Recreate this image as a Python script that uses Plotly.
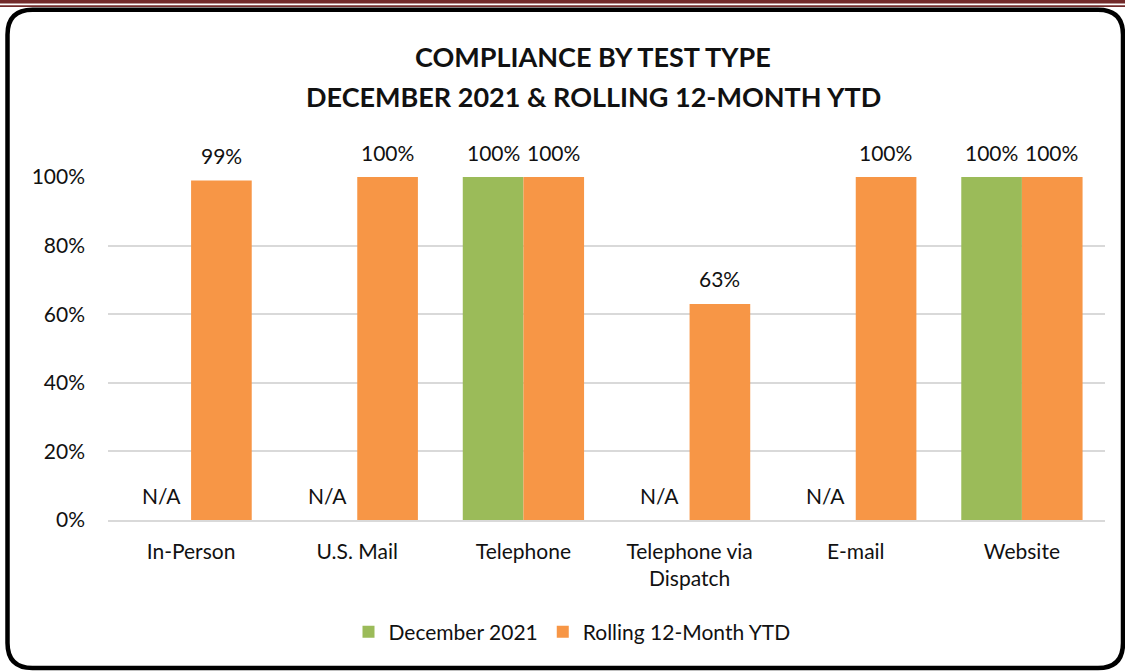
import plotly.graph_objects as go

categories = ["In-Person", "U.S. Mail", "Telephone", "Telephone via<br>Dispatch", "E-mail", "Website"]
december_2021 = [None, None, 1.00, None, None, 1.00]
rolling_12m = [0.99, 1.00, 1.00, 0.63, 1.00, 1.00]
series_names = ["December 2021", "Rolling 12-Month YTD"]
y_ticks = [0, 0.2, 0.4, 0.6, 0.8, 1.0]
y_tick_labels = ["0%", "20%", "40%", "60%", "80%", "100%"]
title_lines = ["COMPLIANCE BY TEST TYPE", "DECEMBER 2021 & ROLLING 12-MONTH YTD"]

GREEN = "#9BBB59"
ORANGE = "#F79646"
FONT = "Lato, Liberation Sans, sans-serif"
TXT = "#111111"
FS = 21

W, H = 1125, 671
L, R, T, B = 108, 20, 177, 151
pw, ph = W - L - R, H - T - B

def px(x):
    return (x - L) / pw

def py(y):
    return (H - B - y) / ph

fig = go.Figure()
fig.add_trace(go.Bar(
    x=categories, y=[v if v is not None else 0 for v in december_2021], name=series_names[0],
    marker=dict(color=GREEN, line=dict(width=0)),
))
fig.add_trace(go.Bar(
    x=categories, y=rolling_12m, name=series_names[1],
    marker=dict(color=ORANGE, line=dict(width=0)),
))

annotations = []
for series, shift in ((december_2021, -30), (rolling_12m, 30)):
    for c, v in zip(categories, series):
        annotations.append(dict(
            x=c, y=(v if v is not None else 0), xref="x", yref="y",
            text=(f"{v*100:.0f}%" if v is not None else "N/A"), showarrow=False,
            xshift=shift, yshift=25, yanchor="middle",
            font=dict(size=FS, color=TXT, family=FONT)))

for line, ypix in zip(title_lines, (57, 97)):
    annotations.append(dict(x=px(593), y=py(ypix), xref="paper", yref="paper", text=f"<b>{line}</b>",
                            showarrow=False, xanchor="center", yanchor="middle",
                            font=dict(size=27, color=TXT, family=FONT)))

# decorative frame
xl, xr, yt, yb, rad = 7.5, 1123, 9.7, 668, 25
path = (f"M {px(xl+rad)},{py(yt)} L {px(xr-rad)},{py(yt)} Q {px(xr)},{py(yt)} {px(xr)},{py(yt+rad)} "
        f"L {px(xr)},{py(yb-rad)} Q {px(xr)},{py(yb)} {px(xr-rad)},{py(yb)} "
        f"L {px(xl+rad)},{py(yb)} Q {px(xl)},{py(yb)} {px(xl)},{py(yb-rad)} "
        f"L {px(xl)},{py(yt+rad)} Q {px(xl)},{py(yt)} {px(xl+rad)},{py(yt)} Z")
shapes = [
    dict(type="path", xref="paper", yref="paper", path=path, line=dict(color="#000000", width=4.5), layer="below"),
    dict(type="rect", xref="paper", yref="paper", x0=px(-5), x1=px(W+5), y0=py(0), y1=py(3.5),
         fillcolor="#722A2A", line=dict(width=0)),
    dict(type="rect", xref="paper", yref="paper", x0=px(-5), x1=px(W+5), y0=py(5.3), y1=py(7),
         fillcolor="#722A2A", line=dict(width=0)),
]

fig.update_layout(
    width=W, height=H,
    margin=dict(l=L, r=R, t=T, b=B),
    paper_bgcolor="white", plot_bgcolor="white",
    barmode="group", bargap=0.27, bargroupgap=0,
    font=dict(family=FONT, size=FS, color=TXT),
    xaxis=dict(showgrid=False, showline=True, linecolor="#D9D9D9", linewidth=1.5,
               ticks="", tickfont=dict(size=FS, color=TXT), ticklabelstandoff=12),
    yaxis=dict(range=[0, 1.0], tickvals=y_ticks, ticktext=y_tick_labels,
               showgrid=True, gridcolor="#D9D9D9", gridwidth=1.5, zeroline=False,
               showline=False, ticks="", tickfont=dict(size=FS, color=TXT), ticklabelstandoff=22),
    legend=dict(orientation="h", x=px(572), xanchor="center", y=py(632), yanchor="middle",
                font=dict(size=FS, color=TXT), itemwidth=30, tracegroupgap=0),
    annotations=annotations,
    shapes=shapes,
    showlegend=True,
)

fig.write_html("out.html", config={"displayModeBar": False},
               post_script="document.body.style.margin='0px';")
